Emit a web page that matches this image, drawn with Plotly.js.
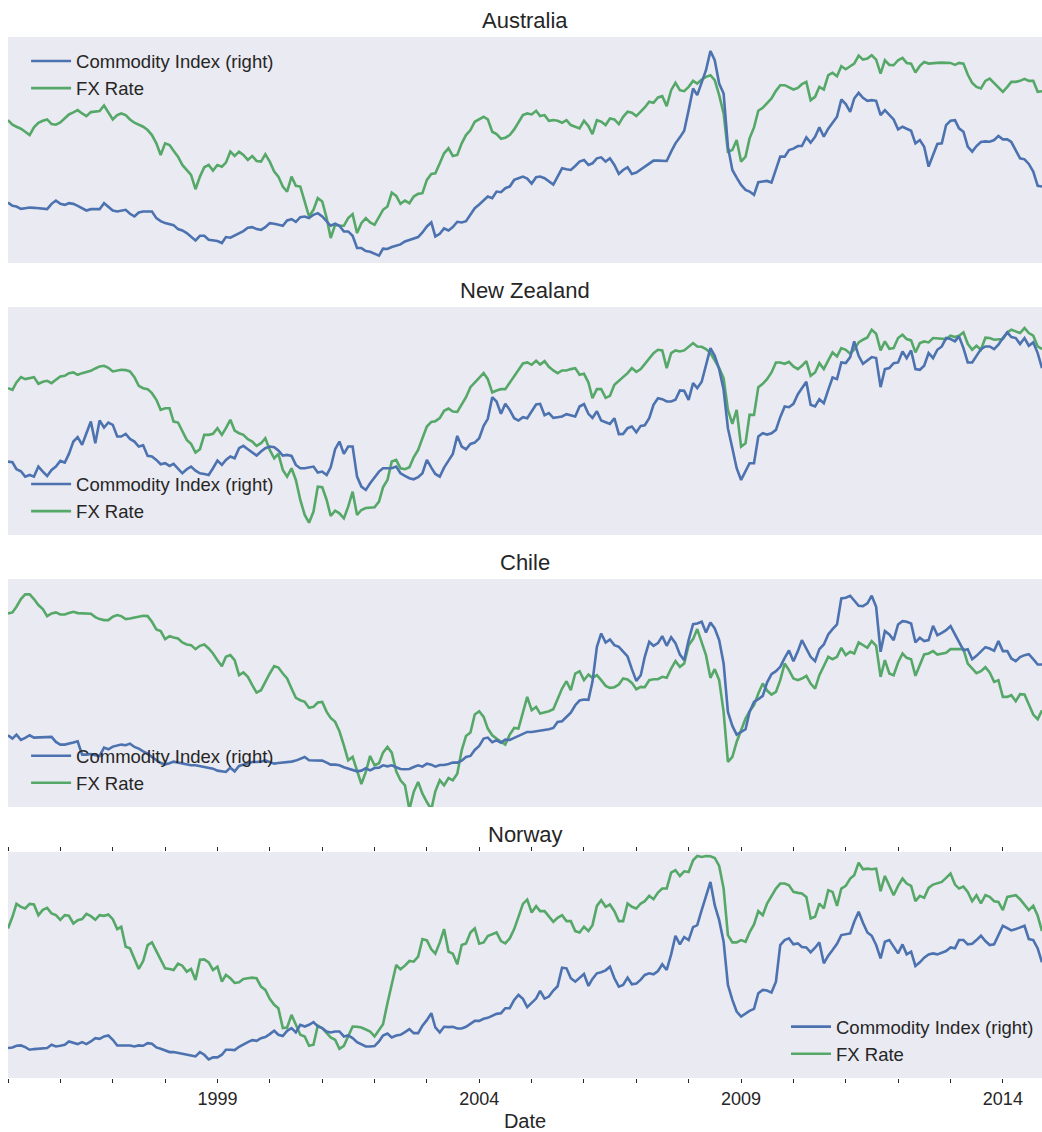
<!DOCTYPE html>
<html><head><meta charset="utf-8">
<script src="https://cdn.plot.ly/plotly-3.0.1.min.js"></script>
<style>html,body{margin:0;padding:0;background:#fff}#chart{width:1042px;height:1132px}</style>
</head><body><div id="chart"></div>
<script>
const START_YEAR = 1995;
const N_MONTHS = 238;
const countries = ['Australia', 'New Zealand', 'Chile', 'Norway'];
const majorYears = [1999, 2004, 2009, 2014];

const ausFx = [430,416,410,404,395,385,408,422,428,432,418,416,423,435,447,453,460,450,442,454,456,457,474,455,432,445,450,445,432,422,417,410,400,385,360,325,360,355,338,320,295,280,265,222,260,288,295,278,295,290,302,335,322,335,325,310,322,307,305,327,305,275,260,230,215,260,232,230,185,140,160,195,185,135,75,115,112,112,135,
147,90,120,135,122,115,140,160,170,212,202,178,188,180,200,208,210,250,268,270,300,330,345,322,325,360,385,400,425,432,440,432,395,388,374,377,385,402,422,445,450,447,458,442,445,428,430,428,422,430,415,410,405,428,412,388,430,425,415,435,432,418,440,455,452,442,455,468,485,482,498,502,472,520,542,520,517,530,548,540,
552,560,565,550,505,450,335,340,370,305,320,375,408,458,467,480,495,518,535,535,528,522,527,538,545,490,500,530,522,565,572,562,592,583,592,600,624,612,615,625,612,570,610,596,595,610,617,602,600,573,593,605,600,602,602,603,603,602,596,602,600,567,542,530,525,548,555,542,530,515,530,545,545,548,554,548,548,515,517];
const ausCommodity = [182,172,170,163,165,167,166,165,165,162,178,188,178,175,180,178,172,165,158,162,162,162,180,170,158,155,158,160,148,140,152,155,155,155,135,126,120,118,114,102,98,90,80,68,82,82,70,68,66,60,78,76,82,88,96,106,108,102,100,108,120,118,116,112,128,132,124,138,140,135,145,150,140,125,112,118,112,95,95,
82,45,45,36,34,28,22,43,42,48,52,56,65,70,74,78,92,110,122,80,88,104,98,108,124,122,126,144,165,176,190,200,195,215,213,225,230,250,255,260,254,239,258,260,255,245,236,260,285,282,280,292,305,310,295,300,315,318,305,315,295,268,280,288,268,272,282,290,300,308,308,308,307,335,360,378,398,460,525,505,
545,580,638,610,540,510,350,280,257,235,220,215,205,243,245,247,242,282,320,320,340,344,352,352,378,362,380,408,380,404,422,440,492,478,455,495,512,497,488,490,488,445,460,446,432,402,410,404,398,360,370,350,290,325,358,360,415,428,430,405,395,350,335,352,364,366,365,370,382,372,372,364,340,315,312,298,275,232,230];

const nzFx = [440,435,457,473,467,469,473,453,459,462,455,465,475,477,485,487,480,485,489,492,499,505,507,501,490,493,495,494,490,473,447,440,437,425,405,375,380,380,340,337,310,285,273,247,257,300,300,303,320,300,320,345,313,305,300,287,280,267,275,290,255,230,243,195,175,200,165,105,60,37,70,145,143,105,57,73,65,50,85,
130,60,75,81,83,83,100,143,165,220,225,200,197,203,233,255,290,325,339,341,350,372,379,370,369,393,413,443,457,473,485,467,427,433,437,437,457,477,493,514,517,510,522,511,521,504,493,485,493,493,497,500,480,483,457,410,437,437,411,417,450,461,473,485,500,489,497,512,530,545,555,553,500,545,553,550,553,565,575,565,
564,557,545,523,500,470,375,333,375,265,275,360,360,443,453,467,487,517,517,513,519,505,497,507,521,477,487,515,497,523,547,535,560,555,543,555,577,585,592,615,603,553,580,558,560,590,600,587,583,547,575,580,577,590,589,587,587,597,593,597,607,573,555,567,555,591,590,585,586,587,607,615,610,605,620,605,597,565,557];
const nzCommodity = [220,218,197,191,175,180,175,205,190,177,195,205,222,217,243,280,293,270,305,340,275,343,322,337,330,295,295,303,288,280,265,269,237,235,225,212,215,207,213,197,185,197,205,193,185,183,180,200,223,210,225,235,230,260,267,257,247,238,250,260,265,263,253,238,240,237,210,200,200,202,205,187,190,180,203,257,280,243,265,
265,175,145,135,155,173,190,200,200,200,205,185,177,170,167,173,185,225,202,183,175,202,223,243,297,265,257,273,277,290,327,348,413,400,363,393,375,350,343,353,350,369,391,393,359,365,351,353,355,362,358,355,385,392,363,351,371,343,338,333,350,302,303,320,325,308,327,329,350,390,410,407,400,400,405,433,432,405,455,440,
459,510,560,537,497,435,320,260,200,165,190,215,215,295,305,301,305,315,353,385,383,393,422,440,459,390,385,407,395,435,472,467,517,515,533,580,537,513,523,533,530,443,497,500,515,517,550,530,553,497,495,507,545,530,555,565,590,587,580,595,560,517,517,537,557,565,565,557,570,590,607,593,590,572,590,567,577,545,500];

const chileFx = [580,583,600,623,637,637,623,605,593,572,580,583,577,577,581,585,581,580,580,579,569,563,560,560,570,575,572,563,565,568,571,573,572,555,532,527,503,512,508,505,493,487,485,473,483,487,475,460,440,422,450,455,440,395,403,390,365,343,350,377,400,422,418,400,385,355,327,320,315,297,300,313,315,285,267,255,227,185,140,
150,105,69,105,153,125,131,163,180,163,107,80,65,-7,45,75,40,15,-7,47,80,65,87,80,100,170,213,223,277,287,270,235,215,205,197,187,217,237,235,280,330,290,300,280,283,287,293,323,355,377,350,400,407,380,397,387,395,380,363,357,359,367,385,382,372,353,360,359,380,383,383,390,387,415,437,420,430,485,503,533,
495,455,387,413,380,285,135,150,195,230,265,287,305,340,370,349,337,345,380,430,410,385,380,385,393,370,355,395,425,450,443,450,477,455,465,460,493,484,477,497,483,390,440,400,395,433,460,447,443,393,425,457,460,467,457,459,462,473,473,473,473,430,415,401,407,419,403,375,380,330,330,335,317,338,337,307,277,263,290];
const chileCommodity = [215,205,217,201,207,215,208,208,208,209,210,195,187,187,189,193,197,157,157,159,155,153,178,173,181,185,187,185,190,180,175,167,160,150,140,132,128,131,136,133,130,127,125,125,122,119,117,115,109,106,105,118,107,123,127,129,135,135,136,140,135,130,132,133,135,136,139,145,150,140,140,140,139,133,127,127,125,119,115,
111,107,109,116,110,117,118,125,122,125,119,114,113,114,120,125,121,130,127,121,126,126,129,133,133,139,150,153,171,183,205,208,194,200,193,202,201,207,213,217,225,225,227,227,230,233,237,255,257,269,283,305,319,322,321,375,480,520,493,502,485,480,467,451,413,378,395,450,495,483,491,512,483,509,491,457,440,500,548,550,
555,523,553,535,500,430,285,243,217,225,233,285,315,323,333,373,398,407,420,447,469,437,467,500,475,450,437,473,487,517,533,547,625,627,633,617,603,602,610,633,600,465,527,517,500,547,557,555,550,493,507,497,500,543,515,522,530,542,517,497,470,473,443,453,467,479,475,468,497,467,467,445,437,449,455,458,443,427,427];

const norFx = [450,485,524,515,510,524,522,490,506,512,495,490,476,490,488,465,475,478,494,487,476,490,488,492,478,448,455,395,390,360,328,352,400,408,380,355,330,328,325,344,338,320,328,295,356,357,348,325,335,290,310,300,286,288,298,300,302,300,275,265,238,220,210,150,152,190,158,130,125,97,100,158,150,135,122,115,88,97,125,
155,154,152,146,140,125,145,162,225,285,340,327,338,352,350,365,418,414,387,374,408,448,380,374,342,400,405,438,450,404,408,427,432,438,412,405,420,448,485,524,537,498,517,502,502,485,470,482,490,472,472,442,438,455,442,460,518,535,515,522,502,472,472,525,515,510,525,532,548,538,558,570,570,618,625,608,622,620,655,668,
665,668,667,662,638,570,430,408,408,415,410,438,462,502,490,525,548,570,585,585,580,560,557,555,545,480,485,525,510,565,560,518,570,578,600,610,648,628,630,628,630,562,608,576,550,578,600,585,578,532,548,542,572,582,585,590,602,615,582,570,576,560,532,550,525,550,545,532,530,505,545,548,550,538,520,505,518,488,442];
const norCommodity = [90,92,97,98,93,85,87,88,88,90,100,95,97,100,110,106,102,108,102,110,120,118,125,128,115,98,98,100,98,95,98,97,105,103,92,88,83,78,78,76,73,70,68,65,78,70,56,62,62,70,85,85,84,94,102,108,114,112,120,123,132,142,130,126,142,150,137,160,155,160,168,155,150,140,137,140,140,125,128,
120,108,102,95,95,96,110,128,134,122,128,130,138,147,135,135,157,174,195,152,137,154,153,154,149,149,154,163,172,172,178,181,188,193,195,210,210,235,250,238,213,227,239,262,239,245,263,276,332,330,300,290,302,313,277,298,315,318,324,335,300,275,280,302,282,284,296,310,315,312,322,342,325,372,428,402,424,415,454,460,
505,545,590,520,475,410,280,235,200,185,195,202,208,255,265,263,257,290,400,415,420,402,405,394,393,378,392,408,345,368,385,404,430,432,435,470,500,467,438,428,400,360,410,415,397,375,402,372,380,337,348,362,372,375,372,376,382,393,390,415,415,402,404,415,428,412,400,402,430,458,451,444,448,454,458,418,415,390,348];

const fxSeries = [ausFx, nzFx, chileFx, norFx];
const commoditySeries = [ausCommodity, nzCommodity, chileCommodity, norCommodity];

// ---- build ----
const months = [];
for (let i = 0; i < N_MONTHS; i++) {
  const y = START_YEAR + Math.floor(i / 12), m = (i % 12) + 1;
  months.push(y + '-' + String(m).padStart(2, '0') + '-01');
}
const yearTicks = [], yearText = [];
for (let y = START_YEAR; y <= START_YEAR + Math.floor((N_MONTHS - 1) / 12); y++) {
  yearTicks.push(y + '-01-01');
  yearText.push(majorYears.includes(y) ? String(y) : '');
}

const BLUE = '#4C72B0', GREEN = '#55A868', TEXT = '#262626';
const FONT = 'Liberation Sans, Arial, sans-serif';
const domains = [[0.7829, 1], [0.5216, 0.7406], [0.2603, 0.4793], [0, 0.2171]];
const yRanges = [[0, 680], [0, 683], [0, 683], [0, 680]];
const legendPos = [
  {x: 0.0175, y: 0.9947, xanchor: 'left', yanchor: 'top'},
  {x: 0.0175, y: 0.5259, xanchor: 'left', yanchor: 'bottom'},
  {x: 0.0175, y: 0.2649, xanchor: 'left', yanchor: 'bottom'},
  {x: 0.9971, y: 0.0047, xanchor: 'right', yanchor: 'bottom'}
];

const data = [];
const layout = {
  width: 1042, height: 1132,
  margin: {l: 8, r: 0, t: 37, b: 54},
  paper_bgcolor: '#ffffff', plot_bgcolor: '#EAEAF2',
  font: {family: FONT, color: TEXT, size: 18},
  annotations: []
};

countries.forEach((name, p) => {
  const xid = p === 0 ? 'x' : 'x' + (p + 1);
  const yFx = p === 0 ? 'y' : 'y' + (2 * p + 1);
  const yCom = 'y' + (2 * p + 2);
  const legId = p === 0 ? 'legend' : 'legend' + (p + 1);

  data.push({
    x: months, y: commoditySeries[p], type: 'scatter', mode: 'lines',
    name: 'Commodity Index (right)', xaxis: xid, yaxis: yCom, legend: legId,
    line: {color: BLUE, width: 2.6}
  });
  data.push({
    x: months, y: fxSeries[p], type: 'scatter', mode: 'lines',
    name: 'FX Rate', xaxis: xid, yaxis: yFx, legend: legId,
    line: {color: GREEN, width: 2.6}
  });

  const isBottom = p === countries.length - 1;
  const xKey = p === 0 ? 'xaxis' : 'xaxis' + (p + 1);
  layout[xKey] = {
    domain: [0, 1], anchor: yFx, type: 'date',
    range: [months[0], months[N_MONTHS - 1]],
    showgrid: false, zeroline: false, showline: false,
    tickvals: yearTicks, ticktext: yearText,
    showticklabels: isBottom,
    ticks: isBottom ? 'outside' : '', ticklen: 4, tickwidth: 1, tickcolor: TEXT,
    mirror: isBottom ? 'ticks' : false,
    tickfont: {size: 18, color: TEXT, family: FONT}
  };
  if (p > 0) layout[xKey].matches = 'x';
  if (isBottom) layout[xKey].title = {text: 'Date', font: {size: 20, color: TEXT, family: FONT}, standoff: 8};

  const yFxKey = p === 0 ? 'yaxis' : 'yaxis' + (2 * p + 1);
  const yComKey = 'yaxis' + (2 * p + 2);
  const hidden = {showgrid: false, zeroline: false, showline: false, showticklabels: false, ticks: '', fixedrange: true};
  layout[yFxKey] = Object.assign({domain: domains[p], anchor: xid, range: yRanges[p]}, hidden);
  layout[yComKey] = Object.assign({overlaying: yFx, side: 'right', anchor: xid, range: yRanges[p]}, hidden);

  layout[legId] = Object.assign({
    bgcolor: 'rgba(0,0,0,0)', borderwidth: 0, itemwidth: 40,
    font: {size: 18.5, color: TEXT, family: FONT}, tracegroupgap: 0
  }, legendPos[p]);

  layout.annotations.push({
    text: name, xref: 'paper', yref: 'paper', x: 0.5, y: domains[p][1],
    xanchor: 'center', yanchor: 'middle', yshift: 17, showarrow: false,
    font: {size: 22, color: TEXT, family: FONT}
  });
});

Plotly.newPlot('chart', data, layout, {displayModeBar: false, responsive: false});
</script>
</body></html>
